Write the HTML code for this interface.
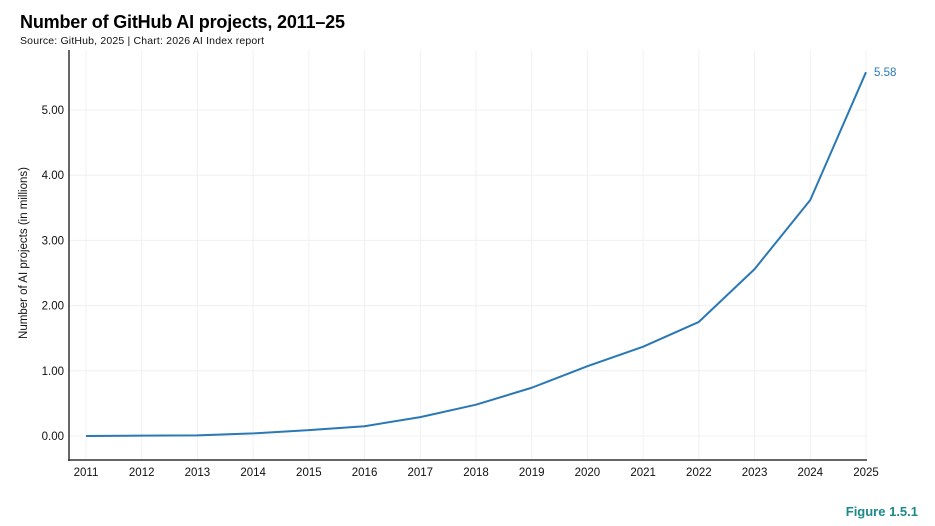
<!DOCTYPE html>
<html><head><meta charset="utf-8"><style>
body{margin:0;background:#fff;font-family:"Liberation Sans",sans-serif;}
#wrap{position:relative;width:935px;height:526px;overflow:hidden}
</style></head><body>
<div id="wrap">
<svg id="chart" width="935" height="526">
<text x="20" y="28" font-size="18" font-weight="bold" fill="#000" textLength="325">Number of GitHub AI projects, 2011–25</text>
<text x="20" y="44" font-size="10.5" fill="#111" textLength="244">Source: GitHub, 2025 | Chart: 2026 AI Index report</text>
<text x="27" y="253" font-size="11.5" fill="#111" text-anchor="middle" transform="rotate(-90 27 253)">Number of AI projects (in millions)</text>
<text x="918" y="516" font-size="13" font-weight="bold" fill="#1a8a8a" text-anchor="end">Figure 1.5.1</text>
<g id="grid"></g><g id="axes"></g><g id="marks"></g>
</svg>
</div>
<script>
const years = [2011,2012,2013,2014,2015,2016,2017,2018,2019,2020,2021,2022,2023,2024,2025];
const projects = [0.00,0.005,0.01,0.04,0.09,0.15,0.29,0.48,0.74,1.07,1.37,1.75,2.56,3.62,5.58];
const yTicks = [0,1,2,3,4,5];
const yTickLabels = ["0.00","1.00","2.00","3.00","4.00","5.00"];
const lastLabel = "5.58";

const NS="http://www.w3.org/2000/svg";
const x0=86, x1=866, y0=436, pxPer=65.2;
const xS = y => x0 + (y-years[0])*(x1-x0)/(years[years.length-1]-years[0]);
const yS = v => y0 - v*pxPer;
function mk(tag,attrs,parent,text){const e=document.createElementNS(NS,tag);for(const k in attrs)e.setAttribute(k,attrs[k]);if(text!==undefined)e.textContent=text;document.getElementById(parent).appendChild(e);return e;}

years.forEach(y=>{
  const g=mk('line',{x1:xS(y),x2:xS(y),y1:50,y2:460,stroke:'#f0f0f0','stroke-width':1},'grid');
  
  
  const t=mk('text',{x:xS(y),y:476,'font-size':11.5,'text-anchor':'middle',fill:'#111'},'axes',String(y));
  
  
});
yTicks.forEach((v,i)=>{
  const g=mk('line',{x1:69,x2:867,y1:yS(v),y2:yS(v),stroke:'#f0f0f0','stroke-width':1},'grid');
  
  
  const t=mk('text',{x:64,y:yS(v)+4,'font-size':11.5,'text-anchor':'end',fill:'#111'},'axes',yTickLabels[i]);
  
  
});
const ya=mk('line',{x1:69,x2:69,y1:50,y2:461,stroke:'#333','stroke-width':1.5},'axes');


const xa=mk('line',{x1:68,x2:867,y1:460,y2:460,stroke:'#333','stroke-width':1.5},'axes');



const pts=years.map((y,i)=>xS(y)+','+yS(projects[i])).join(' ');
const line=mk('polyline',{points:pts,fill:'none',stroke:'#2a78b5','stroke-width':2,'stroke-linejoin':'round'},'marks');


const n=projects.length-1;
const lbl=mk('text',{x:xS(years[n])+8,y:yS(projects[n])+4,'font-size':11.5,fill:'#2a78b5'},'marks',lastLabel);


</script>
</body></html>
